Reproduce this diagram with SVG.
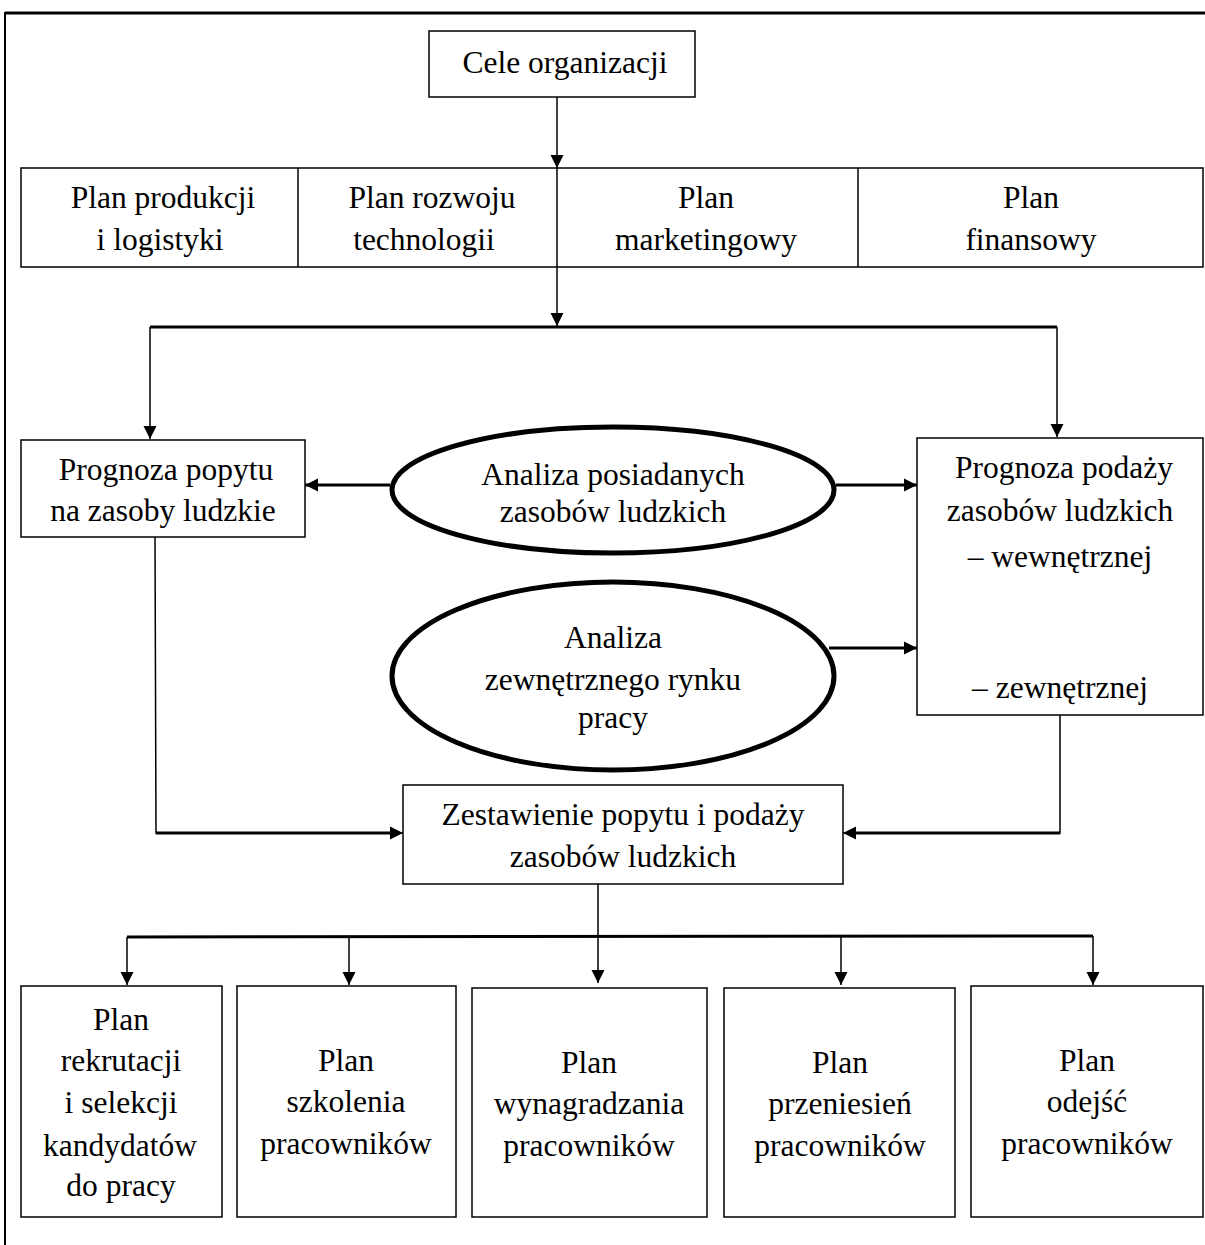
<svg xmlns="http://www.w3.org/2000/svg" width="1205" height="1245" viewBox="0 0 1205 1245">
  <style>
    text { font-family: "Liberation Serif", "Times New Roman", serif; font-size: 31.5px; fill: #000; text-anchor: middle; }
    .box { fill: #fff; stroke: #000; stroke-width: 1.5; }
    .oval { fill: #fff; stroke: #000; stroke-width: 5; }
    .ln { fill: none; stroke: #000; stroke-width: 1.5; }
    .thick { fill: none; stroke: #000; stroke-width: 3; }
  </style>
  <defs>
    <marker id="arrS" viewBox="0 0 10 10" refX="10" refY="5" markerWidth="13" markerHeight="19" markerUnits="userSpaceOnUse" orient="auto">
      <path d="M0,0 L10,5 L0,10 z" fill="#000"/>
    </marker>
  </defs>

  <rect width="1205" height="1245" fill="#fff"/>

  <!-- page frame -->
  <g id="frame">
    <line x1="5" y1="13" x2="1205" y2="13" stroke="#000" stroke-width="3"/>
    <line x1="5" y1="12" x2="5" y2="1245" stroke="#000" stroke-width="2"/>
  </g>

  <!-- connectors -->
  <g id="connectors">
    <line class="ln" x1="557" y1="97" x2="557" y2="168" marker-end="url(#arrS)"/>
    <line class="ln" x1="557" y1="267" x2="557" y2="326" marker-end="url(#arrS)"/>
    <polyline class="thick" points="150,327 1057,327"/>
    <line class="ln" x1="150" y1="327" x2="150" y2="439" marker-end="url(#arrS)"/>
    <line class="ln" x1="1057" y1="327" x2="1057" y2="437" marker-end="url(#arrS)"/>
    <line class="thick" x1="390" y1="485" x2="305" y2="485" marker-end="url(#arrS)"/>
    <line class="thick" x1="836" y1="485" x2="917" y2="485" marker-end="url(#arrS)"/>
    <line class="thick" x1="829" y1="648" x2="917" y2="648" marker-end="url(#arrS)"/>
    <polyline class="ln" points="155,537 156,833 403,833" marker-end="url(#arrS)"/>
    <line class="thick" x1="156" y1="833" x2="395" y2="833"/>
    <polyline class="ln" points="1060,715 1060,833 843,833" marker-end="url(#arrS)"/>
    <line class="thick" x1="1060" y1="833" x2="851" y2="833"/>
    <line class="ln" x1="598" y1="884" x2="598" y2="983" marker-end="url(#arrS)"/>
    <line class="thick" x1="127" y1="937" x2="1093" y2="936"/>
    <line class="ln" x1="127" y1="937" x2="127" y2="985" marker-end="url(#arrS)"/>
    <line class="ln" x1="349" y1="937" x2="349" y2="985" marker-end="url(#arrS)"/>
    <line class="ln" x1="841" y1="937" x2="841" y2="985" marker-end="url(#arrS)"/>
    <line class="ln" x1="1093" y1="936" x2="1093" y2="985" marker-end="url(#arrS)"/>
  </g>

  <g id="cele">
    <rect class="box" x="429" y="31" width="266" height="66"/>
    <text x="565" y="73">Cele organizacji</text>
  </g>

  <g id="plany">
    <rect class="box" x="21" y="168" width="1182" height="99"/>
    <line class="ln" x1="298" y1="168" x2="298" y2="267"/>
    <line class="ln" x1="557" y1="168" x2="557" y2="267"/>
    <line class="ln" x1="858" y1="168" x2="858" y2="267"/>
  </g>
  <g id="plan-produkcji">
    <text x="163" y="208">Plan produkcji</text>
    <text x="160" y="250">i logistyki</text>
  </g>
  <g id="plan-technologii">
    <text x="432" y="208">Plan rozwoju</text>
    <text x="424" y="250">technologii</text>
  </g>
  <g id="plan-marketingowy">
    <text x="706" y="208">Plan</text>
    <text x="706" y="250">marketingowy</text>
  </g>
  <g id="plan-finansowy">
    <text x="1031" y="208">Plan</text>
    <text x="1031" y="250">finansowy</text>
  </g>

  <g id="prognoza-popytu">
    <rect class="box" x="21" y="440" width="284" height="97"/>
    <text x="166" y="480">Prognoza popytu</text>
    <text x="163" y="521">na zasoby ludzkie</text>
  </g>

  <g id="analiza-posiadanych">
    <ellipse class="oval" cx="613" cy="490" rx="221" ry="63"/>
    <text x="613" y="485">Analiza posiadanych</text>
    <text x="613" y="522">zasobów ludzkich</text>
  </g>

  <g id="prognoza-podazy">
    <rect class="box" x="917" y="438" width="286" height="277"/>
    <text x="1064" y="478">Prognoza podaży</text>
    <text x="1060" y="521">zasobów ludzkich</text>
    <text x="1060" y="567">– wewnętrznej</text>
    <text x="1060" y="698">– zewnętrznej</text>
  </g>

  <g id="analiza-rynku">
    <ellipse class="oval" cx="613" cy="676" rx="221" ry="94"/>
    <text x="613" y="648">Analiza</text>
    <text x="613" y="690">zewnętrznego rynku</text>
    <text x="613" y="728">pracy</text>
  </g>

  <g id="zestawienie">
    <rect class="box" x="403" y="785" width="440" height="99"/>
    <text x="623" y="825">Zestawienie popytu i podaży</text>
    <text x="623" y="867">zasobów ludzkich</text>
  </g>

  <g id="plan-rekrutacji">
    <rect class="box" x="21" y="986" width="201" height="231"/>
    <text x="121" y="1030">Plan</text>
    <text x="121" y="1071">rekrutacji</text>
    <text x="121" y="1113">i selekcji</text>
    <text x="120" y="1156">kandydatów</text>
    <text x="121" y="1196">do pracy</text>
  </g>

  <g id="plan-szkolenia">
    <rect class="box" x="237" y="986" width="219" height="231"/>
    <text x="346" y="1071">Plan</text>
    <text x="346" y="1112">szkolenia</text>
    <text x="346" y="1154">pracowników</text>
  </g>

  <g id="plan-wynagradzania">
    <rect class="box" x="472" y="988" width="235" height="229"/>
    <text x="589" y="1073">Plan</text>
    <text x="589" y="1114">wynagradzania</text>
    <text x="589" y="1156">pracowników</text>
  </g>

  <g id="plan-przeniesien">
    <rect class="box" x="724" y="988" width="231" height="229"/>
    <text x="840" y="1073">Plan</text>
    <text x="840" y="1114">przeniesień</text>
    <text x="840" y="1156">pracowników</text>
  </g>

  <g id="plan-odejsc">
    <rect class="box" x="971" y="986" width="232" height="231"/>
    <text x="1087" y="1071">Plan</text>
    <text x="1087" y="1112">odejść</text>
    <text x="1087" y="1154">pracowników</text>
  </g>
</svg>
